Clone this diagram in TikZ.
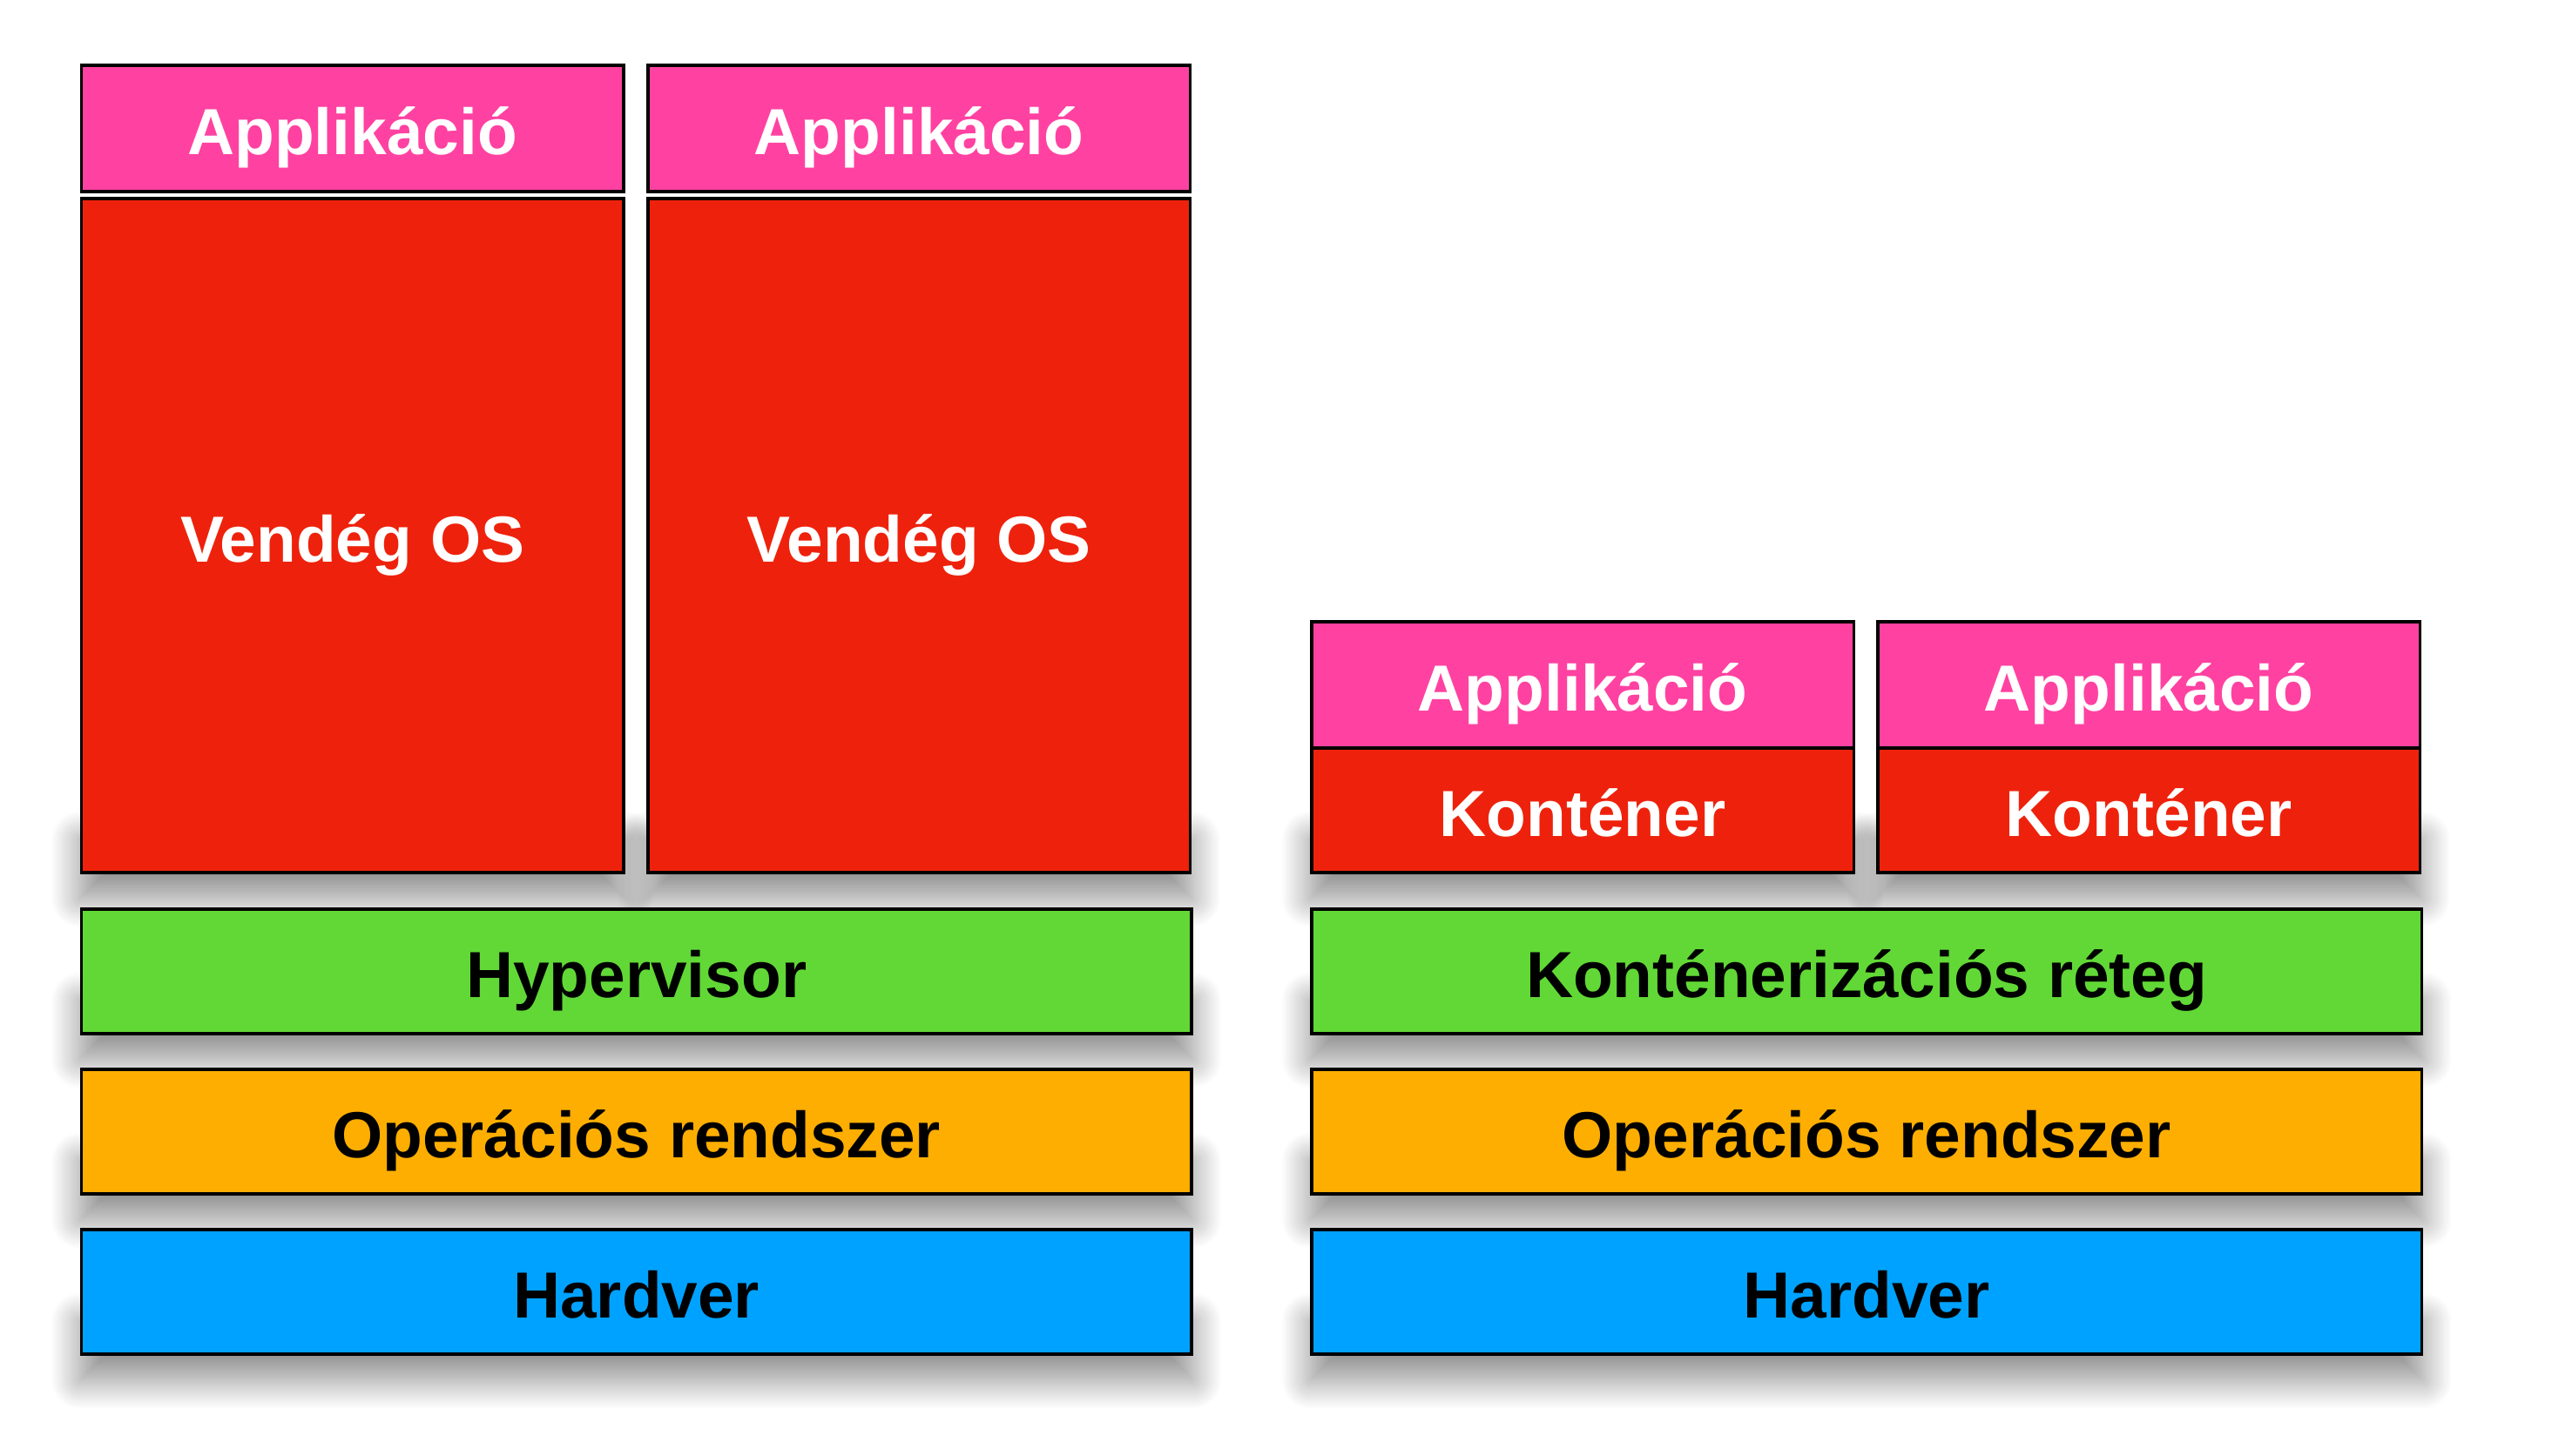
\documentclass[tikz,border=0pt]{standalone}
\usepackage{fontspec}
\setmainfont{Liberation Sans}
\usetikzlibrary{shadows.blur, backgrounds, calc}

\definecolor{kpink}{RGB}{255, 66, 161}
\definecolor{kred}{RGB}{238, 34, 12}
\definecolor{kgreen}{RGB}{97, 216, 54}
\definecolor{korange}{RGB}{254, 174, 0}
\definecolor{kblue}{RGB}{0, 162, 255}

\tikzset{
  layer/.style={draw=black, line width=1.1pt, anchor=south west, inner sep=0pt,
    minimum height=1.43cm, text height=0.6cm, text depth=0cm},
  floorshadow/.style={blur shadow={shadow xshift=0cm, shadow yshift=0cm,
    shadow blur radius=0.33cm, shadow blur steps=30, shadow opacity=45}},
}

\begin{document}
\begin{tikzpicture}[font=\bfseries\fontsize{21.3}{25}\selectfont]
      \def\colw{12.745}
      \def\boxw{6.225}
      \useasboundingbox (0,0) rectangle (29.30,16.72);

      % hardware and os under both stacks
      \foreach \x/\s in {0.915/vm, 15.04/ct} {
        \node[layer, fill=kblue, minimum width=\colw cm] (hw-\s) at (\x, 1.15) {Hardver};
        \node[layer, fill=korange, minimum width=\colw cm] (os-\s) at (\x, 2.99) {Operációs rendszer};
      }

      % middle layer
      \node[layer, fill=kgreen, minimum width=\colw cm] (hyp) at (0.915, 4.83) {Hypervisor};
      \node[layer, fill=kgreen, minimum width=\colw cm] (ctlayer) at (15.04, 4.83) {Konténerizációs réteg};

      % virtual machines: guest os with an app on top
      \foreach \x/\i in {0.915/1, 7.42/2} {
        \node[layer, fill=kred, text=white, minimum width=\boxw cm, minimum height=7.74cm] (guest-\i) at (\x, 6.68) {Vendég OS};
        \node[layer, fill=kpink, text=white, minimum width=\boxw cm, minimum height=1.45cm] (vmapp-\i) at (\x, 14.50) {Applikáció};
      }

      % containers with an app on top
      \foreach \x/\i in {15.04/1, 21.54/2} {
        \node[layer, fill=kpink, text=white, minimum width=\boxw cm, minimum height=1.45cm] (ctapp-\i) at (\x, 8.11) {Applikáció};
        \node[layer, fill=kred, text=white, minimum width=\boxw cm] (cont-\i) at (\x, 6.68) {Konténer};
      }

      % soft shadows on the floor below each box
      \begin{scope}[on background layer]
        \foreach \n in {hw-vm, hw-ct, os-vm, os-ct, hyp, ctlayer, guest-1, guest-2, cont-1, cont-2} {
          \path[floorshadow] ($(\n.south west)+(0,-0.28)$) rectangle ($(\n.south east)+(0,0.4)$);
        }
      \end{scope}
    \end{tikzpicture}
\end{document}
